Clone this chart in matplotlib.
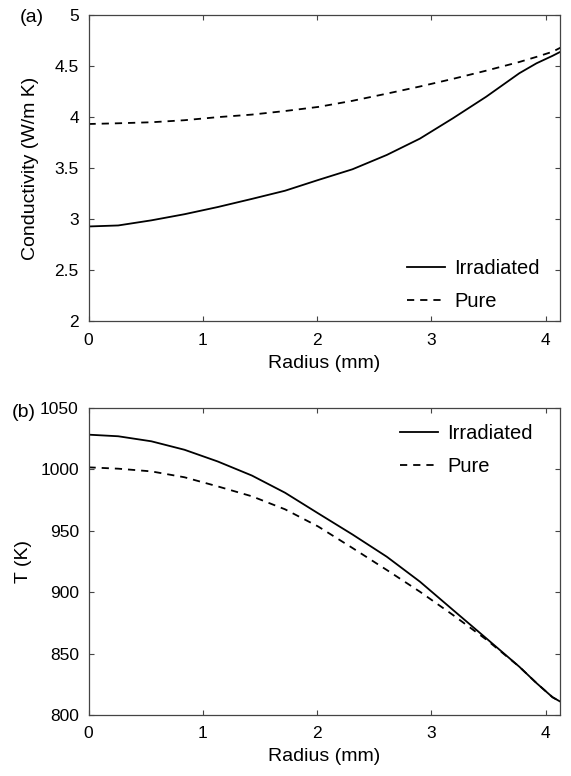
import matplotlib
matplotlib.use('Agg')
import matplotlib.pyplot as plt

plt.rcParams['font.family'] = ['Liberation Sans', 'DejaVu Sans']

# radius samples (mm), shared by all curves
r = [0, 0.26, 0.55, 0.84, 1.13, 1.43, 1.72, 2.01, 2.31, 2.61, 2.90, 3.19, 3.48, 3.77, 3.92, 4.06, 4.13]

# (a) conductivity (W/m K)
k_irr = [2.93, 2.94, 2.99, 3.05, 3.12, 3.20, 3.28, 3.385, 3.49, 3.63, 3.79, 3.99, 4.20, 4.43, 4.527, 4.60, 4.64]
k_pure = [3.933, 3.94, 3.95, 3.97, 4.00, 4.025, 4.06, 4.10, 4.16, 4.23, 4.30, 4.375, 4.455, 4.54, 4.59, 4.64, 4.68]

# (b) temperature (K)
T_irr = [1028.3, 1027, 1022.9, 1016, 1006.5, 995, 981, 964.2, 947, 928.9, 908.6, 885.5, 862.5, 839.3, 826, 814.5, 810.8]
T_pure = [1001.7, 1000.6, 998.4, 993.6, 986.2, 978.1, 967.5, 953.5, 936, 918.1, 900.4, 881.4, 861.5, 839.3, 826, 814.5, 810.8]

fig = plt.figure(figsize=(5.71, 7.76), dpi=100)
ax1 = fig.add_axes([0.155, 0.5857, 0.8266, 0.395])
ax2 = fig.add_axes([0.155, 0.0786, 0.8266, 0.3956])

dash = (0, (4, 3.3))
leg_kw = dict(frameon=False, fontsize=14.5, handlelength=1.9, handletextpad=0.45,
              labelspacing=0.7, borderpad=0.3)
for ax in (ax1, ax2):
    ax.tick_params(direction='in', top=True, right=True, length=3.5, color='#444444',
                   labelsize=12.5)
    ax.tick_params(axis='x', pad=8)
    ax.tick_params(axis='y', pad=7)
    for s in ax.spines.values():
        s.set_color('#444444')
        s.set_linewidth(0.9)
    ax.set_xlim(0, 4.13)
    ax.set_xticks([0, 1, 2, 3, 4])
    ax.set_xlabel('Radius (mm)', fontsize=14, labelpad=5)

ax1.plot(r, k_irr, color='black', lw=1.3, label='Irradiated')
ax1.plot(r, k_pure, color='black', lw=1.3, linestyle=dash, label='Pure')
ax1.set_ylim(2, 5)
ax1.set_yticks([2, 2.5, 3, 3.5, 4, 4.5, 5])
ax1.set_yticklabels(['2', '2.5', '3', '3.5', '4', '4.5', '5'])
ax1.set_ylabel('Conductivity (W/m K)', fontsize=14, labelpad=11)
ax1.legend(loc='lower right', bbox_to_anchor=(0.99, -0.018), **leg_kw)
fig.text(0.035, 0.977, '(a)', ha='left', va='center', fontsize=14)

ax2.plot(r, T_irr, color='black', lw=1.3, label='Irradiated')
ax2.plot(r, T_pure, color='black', lw=1.3, linestyle=dash, label='Pure')
ax2.set_ylim(800, 1050)
ax2.set_yticks([800, 850, 900, 950, 1000, 1050])
ax2.set_ylabel('T (K)', fontsize=14, labelpad=6)
ax2.legend(loc='upper right', bbox_to_anchor=(0.975, 1.0), **leg_kw)
fig.text(0.02, 0.468, '(b)', ha='left', va='center', fontsize=14)

fig.savefig('out.png', dpi=100)
